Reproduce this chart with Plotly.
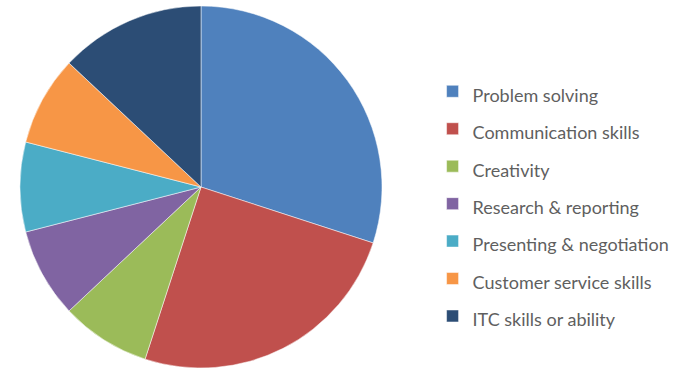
import plotly.graph_objects as go

# skills share (percent)
skills = ["Problem solving", "Communication skills", "Creativity",
          "Research &amp; reporting", "Presenting &amp; negotiation",
          "Customer service skills", "ITC skills or ability"]
shares = [30, 25, 8, 8, 8, 8, 13]
colors = ["#4F81BD", "#C0504D", "#9BBB59", "#8064A2",
          "#4BACC6", "#F79646", "#2C4D75"]

W, H = 678, 369
cx, cy, r = 201, 187, 181  # pie centre / radius in px

# legend font is large so rows get Excel-like spacing; the text itself is smaller
legend_labels = [f'<span style="font-size:18px">{s}</span>' for s in skills]

fig = go.Figure(go.Pie(
    labels=legend_labels, values=shares,
    marker=dict(colors=colors, line=dict(color="white", width=0.5)),
    sort=False, direction="clockwise", rotation=0,
    textinfo="none", hoverinfo="skip",
    domain=dict(x=[(cx - r) / W, (cx + r) / W],
                y=[(H - cy - r) / H, (H - cy + r) / H]),
))

fig.update_layout(
    width=W, height=H,
    margin=dict(l=0, r=0, t=0, b=0),
    paper_bgcolor="white", plot_bgcolor="white",
    font=dict(family="Lato, Open Sans, sans-serif", color="#5F5F5F"),
    legend=dict(x=0.638, y=0.447, xanchor="left", yanchor="middle",
                font=dict(size=26.5, color="#5F5F5F"),
                itemclick=False, itemdoubleclick=False),
    showlegend=True,
)

# drop the browser's default 8px body margin so the figure sits at 0,0
fig.write_html("out.html", config={"displayModeBar": False},
               post_script="document.body.style.margin='0';")
